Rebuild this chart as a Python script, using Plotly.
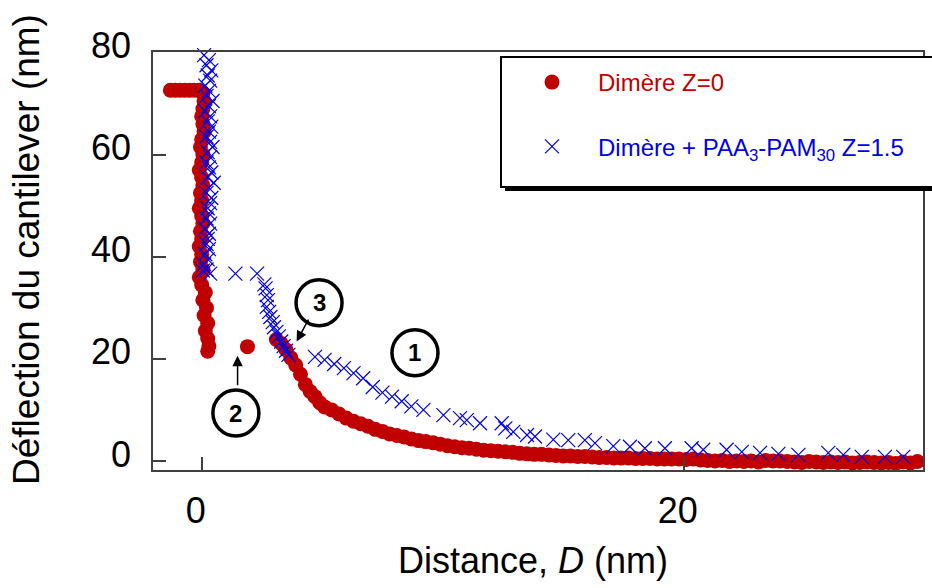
import plotly.graph_objects as go

# ---------------- data ----------------
# Dimère Z=0 (red circles)
red_x = [-1.3, -1.1, -0.9, -0.7, -0.5, -0.3, -0.1,
         0.05, 0.1, 0.05, 0.0, 0.05, 0.1, 0.0, -0.05, 0.05, 0.0, -0.1, 0.0, 0.05, -0.05, 0.0, -0.1,
         0.0, 0.05, -0.05, 0.0, -0.1, 0.0, -0.05, 0.05, -0.1, 0.0, 0.15, 0.05, 0.2, 0.1, 0.25, 0.15,
         0.25, 0.3, 0.25,
         1.9,
         3.1, 3.3, 3.5, 3.7, 3.9, 4.1, 4.3, 4.5, 4.7, 4.9, 5.1, 5.4, 5.7, 6.0, 6.3, 6.6, 6.9, 7.2,
         7.5, 7.8, 8.1, 8.4, 8.7, 9.0, 9.3, 9.6, 9.9, 10.2, 10.5, 10.8, 11.1, 11.4, 11.7, 12.0,
         12.3, 12.6, 12.9, 13.2, 13.5, 13.8, 14.1, 14.4, 14.7, 15.0, 15.3, 15.6, 15.9, 16.2, 16.5,
         16.8, 17.1, 17.4, 17.7, 18.0, 18.3, 18.6, 18.9, 19.2, 19.5, 19.8, 20.1, 20.4, 20.7, 21.0,
         21.3, 21.6, 21.9, 22.2, 22.5, 22.8, 23.1, 23.4, 23.7, 24.0, 24.3, 24.6, 24.9, 25.2, 25.5,
         25.8, 26.1, 26.4, 26.7, 27.0, 27.3, 27.6, 27.9, 28.2, 28.5, 28.8, 29.1, 29.4, 29.7]
red_y = [72.6, 72.6, 72.6, 72.6, 72.6, 72.6, 72.6,
         72.0, 70.5, 69.0, 67.5, 66.0, 64.5, 63.0, 61.5, 60.0, 58.5, 57.0, 55.5, 54.0, 52.5, 51.0, 49.5,
         48.0, 46.5, 45.0, 43.5, 42.0, 40.5, 39.0, 37.5, 36.0, 34.5, 33.0, 31.5, 30.0, 28.5, 27.0, 25.5,
         24.0, 22.5, 21.5,
         22.4,
         23.8, 23.0, 21.8, 20.2, 18.8, 17.0, 15.0, 13.6, 12.6, 11.4, 10.6, 10.0, 9.2, 8.4, 7.8, 7.3, 6.8, 6.2,
         5.8, 5.3, 5.0, 4.7, 4.3, 4.0, 3.8, 3.6, 3.3, 3.0, 2.8, 2.6, 2.5, 2.3, 2.1, 2.0,
         1.9, 1.8, 1.7, 1.5, 1.4, 1.3, 1.3, 1.2, 1.1, 1.0, 1.0, 0.9, 0.9, 0.8, 0.7,
         0.7, 0.6, 0.6, 0.6, 0.5, 0.5, 0.5, 0.4, 0.4, 0.4, 0.4, 0.3, 0.4, 0.2, 0.1,
         0.0, 0.1, -0.1, 0.0, -0.1, 0.0, -0.2, 0.1, 0.0, 0.0, -0.1, -0.2, -0.3, -0.1, -0.2,
         -0.3, -0.2, -0.3, -0.2, -0.4, -0.3, -0.2, -0.3, -0.4, -0.3, -0.5, -0.2, -0.4, -0.1]

# Dimère + PAA3-PAM30 Z=1.5 (blue crosses)
blue_x = [0.1, 0.3, 0.2, 0.4, 0.25, 0.35, 0.15, 0.3, 0.2, 0.45, 0.3, 0.15, 0.35, 0.25, 0.4,
          0.3, 0.2, 0.35, 0.45, 0.25, 0.35, 0.2, 0.3, 0.4, 0.25, 0.5, 0.3, 0.2, 0.4, 0.35,
          0.25, 0.3, 0.2, 0.35, 0.15, 0.3, 0.25, 0.2, 0.3, 0.15, 0.25, 0.1, 0.2,
          0.05, 0.35, 1.4, 2.3,
          2.6, 2.65, 2.7, 2.75, 2.7, 2.8, 2.85, 2.95, 3.0, 3.1, 3.2, 3.3, 3.4, 3.5, 3.6,
          4.7, 5.1, 5.5, 5.9, 6.3, 6.7, 7.1, 7.5, 7.9, 8.3, 8.7, 9.2,
          10.03, 10.72, 11.0, 11.55, 12.45, 12.6, 12.93, 13.5, 13.83, 14.59, 15.21, 15.9,
          16.32, 17.08, 17.77, 18.39, 19.22, 20.33, 20.81, 21.78, 22.41, 23.17, 23.93,
          24.76, 26.0, 26.62, 27.39, 28.35, 29.11]
blue_y = [79.5, 78.5, 77.5, 76.5, 75.5, 74.5, 73.5, 72.5, 71.5, 70.5, 69.5, 68.5, 67.5, 66.5, 65.5,
          64.5, 63.5, 62.5, 61.5, 60.5, 59.5, 58.5, 57.5, 56.5, 55.5, 54.5, 53.5, 52.5, 51.5, 50.5,
          49.5, 48.5, 47.5, 46.5, 45.5, 44.5, 43.5, 42.5, 41.5, 40.5, 39.5, 38.5, 37.5,
          37.3, 36.7, 36.7, 36.7,
          34.6, 33.8, 32.5, 31.5, 30.2, 29.2, 28.2, 27.2, 26.2, 25.3, 24.4, 23.4, 22.5, 21.6, 20.8,
          20.4, 19.8, 19.0, 18.2, 17.2, 16.2, 14.5, 13.4, 12.6, 11.7, 10.7, 10.0,
          9.0, 8.4, 8.0, 7.4, 7.4, 6.4, 5.7, 5.1, 4.8, 4.2, 4.1, 4.1,
          3.5, 2.9, 2.8, 2.5, 2.5, 2.5, 2.2, 2.2, 1.8, 1.6, 1.4,
          1.2, 1.6, 1.2, 0.8, 0.8, 0.8]

x_tickvals = [0, 20]
x_ticktext = ["0", "20"]
y_tickvals = [0, 20, 40, 60, 80]
y_ticktext = ["0", "20", "40", "60", "80"]

# ---------------- styling / geometry ----------------
FONT = "Liberation Sans, Arial, sans-serif"
RED = "#c00000"
BLUE = "#0000e6"
AX = "#404040"
W, H = 932, 588
L, R, T, B = 153, 9, 52, 118
PW, PH = W - L - R, H - T - B


def px2paper(px, py):
    return (px - L) / PW, (H - B - py) / PH


fig = go.Figure()
fig.add_trace(go.Scatter(
    x=red_x, y=red_y, mode="markers", name="<span style='color:%s'>Dimère Z=0</span>" % RED,
    legendgroup="a",
    marker=dict(symbol="circle", size=15, color=RED, line=dict(width=0)),
    cliponaxis=False))
fig.add_trace(go.Scatter(
    x=blue_x, y=blue_y, mode="markers",
    name="<span style='color:%s'>Dimère + PAA<sub>3</sub>-PAM<sub>30</sub> Z=1.5</span>" % BLUE,
    legendgroup="b",
    marker=dict(symbol="x-thin-open", size=14, color=BLUE, line=dict(width=1.2, color=BLUE)),
    cliponaxis=False))

shapes = []
# legend box with shadow
sx0, sy0 = px2paper(505, 61)
sx1, sy1 = px2paper(945, 191)
shapes.append(dict(type="rect", xref="paper", yref="paper", x0=sx0, y0=sy0, x1=sx1, y1=sy1,
                   fillcolor="black", line=dict(width=0), layer="above"))
bx0, by0 = px2paper(501, 57)
bx1, by1 = px2paper(941, 187)
shapes.append(dict(type="rect", xref="paper", yref="paper", x0=bx0, y0=by0, x1=bx1, y1=by1,
                   fillcolor="white", line=dict(width=2, color="black"), layer="above"))

# numbered circles (data-anchored, pixel-sized)
labels = [("1", 8.85, 21.2), ("2", 1.42, 9.4), ("3", 4.87, 31.0)]
annotations = []
for txt, cx, cy in labels:
    shapes.append(dict(type="circle", xref="x", yref="y", xsizemode="pixel", ysizemode="pixel",
                       xanchor=cx, yanchor=cy, x0=-23, x1=23, y0=-23, y1=23,
                       line=dict(width=3.5, color="black"), fillcolor="white", layer="above"))
    annotations.append(dict(x=cx, y=cy, xref="x", yref="y", text="<b>%s</b>" % txt,
                            showarrow=False, font=dict(family=FONT, size=24, color="black")))

# arrows
annotations.append(dict(x=1.49, y=20.6, xref="x", yref="y", ax=0, ay=31, text="",
                        showarrow=True, arrowhead=2, arrowsize=1.4, arrowwidth=1.5,
                        arrowcolor="black", standoff=0))
annotations.append(dict(x=3.94, y=23.4, xref="x", yref="y", ax=12.6, ay=-23.4, text="",
                        showarrow=True, arrowhead=2, arrowsize=1.4, arrowwidth=1.5,
                        arrowcolor="black", standoff=0))

# axis titles
tx, ty = px2paper(533, 560)
annotations.append(dict(x=tx, y=ty, xref="paper", yref="paper", showarrow=False,
                        text="Distance, <i>D</i> (nm)", xanchor="center", yanchor="middle",
                        font=dict(family=FONT, size=36, color="black")))
tx, ty = px2paper(26, 250)
annotations.append(dict(x=tx, y=ty, xref="paper", yref="paper", showarrow=False,
                        text="Déflection du cantilever (nm)", textangle=-90,
                        xanchor="center", yanchor="middle",
                        font=dict(family=FONT, size=37, color="black")))

lx, ly = px2paper(506, 60)
fig.update_layout(
    width=W, height=H,
    margin=dict(l=L, r=R, t=T, b=B, autoexpand=False),
    paper_bgcolor="white", plot_bgcolor="white",
    font=dict(family=FONT, size=36, color="black"),
    showlegend=True,
    legend=dict(x=lx, y=ly, xanchor="left", yanchor="top", bgcolor="rgba(0,0,0,0)",
                borderwidth=0, font=dict(family=FONT, size=24), itemwidth=82,
                tracegroupgap=30, traceorder="grouped"),
    xaxis=dict(range=[-2.02, 29.93], tickvals=x_tickvals, ticktext=x_ticktext,
               showline=True, linecolor=AX, linewidth=1.5, mirror=True,
               ticks="inside", ticklen=13, tickwidth=1.5, tickcolor=AX,
               showgrid=False, zeroline=False, tickfont=dict(size=36), automargin=False,
               ticklabelstandoff=8, ticklabelshift=-6),
    yaxis=dict(range=[-1.76, 80.1], tickvals=y_tickvals, ticktext=y_ticktext,
               showline=True, linecolor=AX, linewidth=1.5, mirror=True,
               ticks="inside", ticklen=13, tickwidth=1.5, tickcolor=AX,
               showgrid=False, zeroline=False, tickfont=dict(size=36),
               ticklabelstandoff=13, ticklabelshift=-7, automargin=False),
    shapes=shapes, annotations=annotations,
)

fig.write_html("out.html", config={"displayModeBar": False},
               post_script="document.body.style.margin='0px';document.body.style.overflow='hidden';")
